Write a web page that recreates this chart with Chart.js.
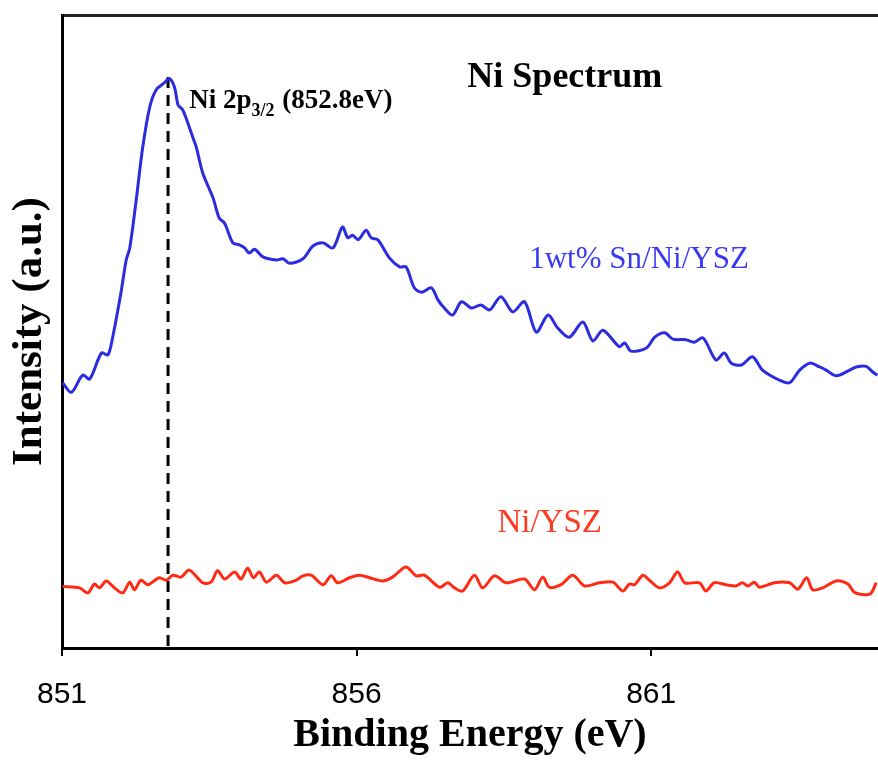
<!DOCTYPE html>
<html>
<head>
<meta charset="utf-8">
<script src="https://cdn.jsdelivr.net/npm/chart.js@4.4.1/dist/chart.umd.min.js"></script>
<style>
  html, body { margin: 0; background: #fff; }
  #wrap { width: 878px; height: 761px; position: relative; }
</style>
</head>
<body>
<div id="wrap"><canvas id="xps"></canvas></div>
<script>
// Ni 2p XPS spectra — Sn-doped vs. plain Ni/YSZ anode.

// ── Data ──────────────────────────────────────────────────────────────────────
const xTicks = [851, 856, 861];
const xMin = 851, xMax = 864.85;
const peakEnergy = 852.8;

// 1wt% Sn/Ni/YSZ
const snEnergy = [
  851.01, 851.16, 851.35, 851.47, 851.67, 851.78, 851.86, 852.00, 852.09, 852.15,
  852.26, 852.37, 852.49, 852.60, 852.74, 852.82, 852.91, 852.97, 853.05, 853.22,
  853.28, 853.39, 853.56, 853.67, 853.76, 853.90, 854.01, 854.10, 854.18, 854.27,
  854.41, 854.64, 854.75, 854.86, 855.09, 855.26, 855.43, 855.60, 855.76, 855.85,
  855.93, 856.03, 856.16, 856.25, 856.36, 856.56, 856.73, 856.84, 856.98, 857.10,
  857.27, 857.38, 857.49, 857.63, 857.78, 857.95, 858.11, 858.26, 858.45, 858.65,
  858.85, 859.05, 859.25, 859.41, 859.61, 859.84, 860.01, 860.18, 860.46, 860.55,
  860.66, 860.92, 861.06, 861.23, 861.37, 861.59, 861.73, 861.88, 862.10, 862.24,
  862.36, 862.53, 862.72, 862.89, 863.18, 863.35, 863.52, 863.69, 863.86, 863.97,
  864.14, 864.37, 864.48, 864.65, 864.76, 864.84,
];
const snIntensity = [
  41.9, 40.4, 43.1, 42.5, 46.6, 46.3, 49.1, 56.1, 61.3, 63.2,
  70.8, 79.1, 85.5, 88.2, 89.3, 90.0, 88.6, 85.8, 85.0, 80.7,
  79.1, 75.0, 71.2, 67.9, 67.1, 64.0, 63.7, 63.2, 62.4, 63.0,
  61.8, 61.3, 61.5, 60.8, 61.5, 63.5, 64.0, 63.2, 66.5, 64.8,
  65.2, 64.5, 66.0, 64.8, 64.5, 61.6, 60.2, 60.2, 56.9, 56.2,
  56.9, 55.0, 53.7, 52.6, 54.7, 53.7, 54.2, 53.4, 55.5, 53.1,
  54.7, 49.9, 52.6, 50.6, 49.1, 51.5, 48.5, 50.2, 47.6, 48.2,
  46.9, 47.4, 49.1, 49.8, 48.8, 48.7, 48.3, 49.0, 45.5, 46.6,
  45.0, 44.7, 46.0, 43.9, 42.3, 41.9, 43.9, 45.0, 44.4, 43.9,
  43.0, 43.9, 44.4, 44.5, 43.6, 43.1,
];

// Ni/YSZ
const niEnergy = [
  851.01, 851.30, 851.44, 851.55, 851.64, 851.75, 851.89, 852.03, 852.15, 852.23,
  852.34, 852.46, 852.65, 852.77, 852.88, 853.02, 853.16, 853.39, 853.53, 853.64,
  853.76, 853.93, 854.04, 854.15, 854.25, 854.35, 854.47, 854.64, 854.78, 854.97,
  855.09, 855.23, 855.43, 855.57, 855.68, 855.88, 856.05, 856.22, 856.44, 856.61,
  856.84, 857.01, 857.15, 857.41, 857.55, 857.66, 857.80, 858.00, 858.14, 858.34,
  858.54, 858.85, 859.02, 859.16, 859.27, 859.47, 859.67, 859.87, 860.12, 860.35,
  860.52, 860.63, 860.72, 860.86, 860.97, 861.14, 861.31, 861.45, 861.57, 861.82,
  861.93, 862.07, 862.27, 862.44, 862.55, 862.64, 862.75, 862.84, 863.09, 863.35,
  863.49, 863.64, 863.74, 863.91, 864.14, 864.34, 864.45, 864.71, 864.82,
];
const niIntensity = [
  9.7, 9.5, 8.7, 10.1, 9.5, 10.6, 9.5, 8.7, 10.4, 9.2,
  10.7, 10.0, 11.1, 10.7, 11.5, 11.2, 12.3, 10.3, 10.4, 12.2,
  10.9, 12.0, 10.9, 12.6, 11.1, 12.0, 10.4, 11.5, 10.3, 10.7,
  11.4, 11.5, 10.0, 11.4, 10.3, 11.1, 11.5, 11.1, 10.6, 11.2,
  12.8, 11.4, 11.5, 9.6, 10.3, 9.5, 9.0, 11.5, 9.5, 11.4,
  10.3, 10.9, 9.2, 11.2, 9.6, 10.0, 11.5, 9.8, 10.3, 10.4,
  9.0, 10.1, 10.0, 11.5, 10.7, 9.5, 10.3, 12.0, 10.3, 10.3,
  9.0, 10.3, 10.0, 9.8, 10.3, 9.8, 10.4, 9.6, 10.3, 10.3,
  9.3, 11.1, 9.2, 9.5, 10.6, 10.1, 8.8, 8.5, 10.3,
];

// marker line for the 2p3/2 peak
const peakLineY = [0.3, 90.8];

// ── Helpers ───────────────────────────────────────────────────────────────────
const SERIF = '"Liberation Serif", "Times New Roman", serif';
const SANS = '"Liberation Sans", Arial, sans-serif';
const zip = (xs, ys) => xs.map((x, i) => ({ x, y: ys[i] }));

// free text on the plot, placed in data coordinates
const textLabels = {
  id: 'textLabels',
  afterDatasetsDraw(chart) {
    const { ctx, scales: { x, y } } = chart;
    ctx.save();
    ctx.textAlign = 'left';
    ctx.textBaseline = 'alphabetic';

    ctx.fillStyle = '#000';
    ctx.font = `bold 36px ${SERIF}`;
    ctx.fillText('Ni Spectrum', x.getPixelForValue(857.88), y.getPixelForValue(88.6));

    // Ni 2p3/2 with subscript
    let px = x.getPixelForValue(853.16);
    const py = y.getPixelForValue(85.3);
    ctx.font = `bold 27px ${SERIF}`;
    ctx.fillText('Ni 2p', px, py);
    px += ctx.measureText('Ni 2p').width;
    ctx.font = `bold 18px ${SERIF}`;
    ctx.fillText('3/2', px, py + 8);
    px += ctx.measureText('3/2').width + 1;
    ctx.font = `bold 27px ${SERIF}`;
    ctx.fillText(' (852.8eV)', px, py);

    ctx.font = `31px ${SERIF}`;
    ctx.fillStyle = '#3a3af2';
    ctx.fillText('1wt% Sn/Ni/YSZ', x.getPixelForValue(858.93), y.getPixelForValue(60.0));
    ctx.font = `33px ${SERIF}`;
    ctx.fillStyle = '#ff3a22';
    ctx.fillText('Ni/YSZ', x.getPixelForValue(858.39), y.getPixelForValue(18.4));
    ctx.restore();
  },
};

// ── Chart ─────────────────────────────────────────────────────────────────────
new Chart(document.getElementById('xps'), {
  type: 'line',
  data: {
    datasets: [
      { label: '1wt% Sn/Ni/YSZ', data: zip(snEnergy, snIntensity), borderColor: '#2b2be0', borderWidth: 3, pointRadius: 0, tension: 0.3 },
      { label: 'Ni/YSZ', data: zip(niEnergy, niIntensity), borderColor: '#ff2a14', borderWidth: 3, pointRadius: 0, tension: 0.3 },
      { label: 'Ni 2p3/2', data: peakLineY.map((v) => ({ x: peakEnergy, y: v })), borderColor: '#000', borderWidth: 3, borderDash: [11, 7], pointRadius: 0 },
    ],
  },
  options: {
    responsive: true,
    maintainAspectRatio: false,
    animation: false,
    layout: { padding: 0 },
    plugins: { legend: { display: false }, tooltip: { enabled: false } },
    scales: {
      x: {
        type: 'linear', position: 'bottom', min: xMin, max: xMax,
        afterBuildTicks: (s) => { s.ticks = xTicks.map((v) => ({ value: v })); },
        afterFit: (s) => { s.height = 113; },
        ticks: { color: '#000', font: { family: SANS, size: 30 }, padding: 21, maxRotation: 0 },
        grid: { drawOnChartArea: false, drawTicks: true, tickLength: 8, color: '#000', lineWidth: 2 },
        border: { display: true, color: '#000', width: 3 },
        title: { display: true, text: 'Binding Energy (eV)', color: '#000', font: { family: SERIF, size: 40, weight: 'bold' }, padding: { top: 0, bottom: 1 } },
      },
      xTop: {
        type: 'linear', position: 'top', min: xMin, max: xMax,
        afterFit: (s) => { s.height = 15; },
        ticks: { display: false },
        grid: { display: false },
        border: { display: true, color: '#222', width: 3 },
      },
      y: {
        type: 'linear', min: 0, max: 100,
        afterFit: (s) => { s.width = 62; },
        ticks: { display: false },
        grid: { display: false },
        border: { display: true, color: '#000', width: 3 },
        title: { display: true, text: 'Intensity (a.u.)', color: '#000', font: { family: SERIF, size: 43, weight: 'bold' }, padding: { top: 4, bottom: 0 } },
      },
    },
  },
  plugins: [textLabels],
});
</script>
</body>
</html>
